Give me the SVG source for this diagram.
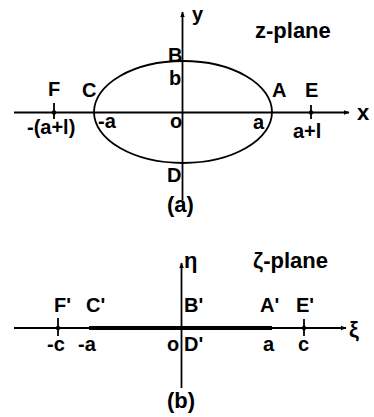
<svg xmlns="http://www.w3.org/2000/svg" width="374" height="417" viewBox="0 0 374 417">
<defs>
<marker id="arr" viewBox="0 0 10 10" refX="9" refY="5" markerWidth="6" markerHeight="6" markerUnits="userSpaceOnUse" orient="auto">
<path d="M0,1 L10,5 L0,9 Z" fill="#000"/>
</marker>
<style>
.ax{stroke:#000;stroke-width:1.8;fill:none}
.tk{stroke:#000;stroke-width:1.8}
.dot{fill:#000}
.t{font-family:"Liberation Sans",Arial,"DejaVu Sans",sans-serif;font-weight:bold;font-size:20px;fill:#000}
.l{font-size:22px}
</style>
</defs>
<rect width="374" height="417" fill="#fff"/>
<g id="connectors">
<line class="ax" x1="14" y1="112.5" x2="349" y2="112.5" marker-end="url(#arr)"/>
<line class="ax" x1="182.5" y1="200" x2="182.5" y2="12" marker-end="url(#arr)"/>
<ellipse class="ax" cx="183" cy="112" rx="89" ry="51" stroke-width="2"/>
<line class="ax" x1="14" y1="328" x2="346" y2="328" marker-end="url(#arr)"/>
<line class="ax" x1="181.5" y1="388" x2="181.5" y2="263" marker-end="url(#arr)"/>
<line x1="89" y1="328" x2="272" y2="328" stroke="#000" stroke-width="4"/>
</g>
<g id="z-plane">
<text class="t" x="192" y="21">y</text>
<text class="t l" x="255" y="38">z-plane</text>
<text class="t l" x="357" y="120">x</text>
<text class="t" x="170" y="128">o</text>
<text class="t l" x="167" y="212">(a)</text>
</g>
<g id="node-B"><text class="t" x="168" y="62">B</text><text class="t" x="169" y="85">b</text></g>
<g id="node-F"><line class="tk" x1="54" y1="103" x2="54" y2="119"/><circle class="dot" cx="54" cy="112.5" r="2.2"/><text class="t" x="48" y="96">F</text><text class="t" x="27" y="134">-(a+l)</text></g>
<g id="node-C"><text class="t" x="82" y="97">C</text><text class="t" x="98" y="128">-a</text></g>
<g id="node-A"><text class="t" x="272" y="97">A</text><text class="t" x="253" y="129">a</text></g>
<g id="node-E"><line class="tk" x1="311" y1="105" x2="311" y2="119"/><circle class="dot" cx="311" cy="112.5" r="2.2"/><text class="t" x="305" y="97">E</text><text class="t" x="293" y="138">a+l</text></g>
<g id="node-D"><text class="t" x="167" y="182">D</text></g>
<g id="zeta-plane">
<text class="t l" x="184" y="268">η</text>
<text class="t l" x="253" y="268">ζ-plane</text>
<text class="t l" x="349" y="337">ξ</text>
<text class="t" x="167" y="351">o</text>
<text class="t l" x="167" y="408">(b)</text>
</g>
<g id="node-Fp"><line class="tk" x1="58" y1="318" x2="58" y2="336"/><circle class="dot" cx="58" cy="328" r="2.2"/><text class="t" x="54" y="312">F'</text><text class="t" x="47" y="351">-c</text></g>
<g id="node-Cp"><text class="t" x="86" y="312">C'</text><text class="t" x="78" y="351">-a</text></g>
<g id="node-Bp"><text class="t" x="184" y="312">B'</text></g>
<g id="node-Dp"><text class="t" x="184" y="351">D'</text></g>
<g id="node-Ap"><text class="t" x="260" y="312">A'</text><text class="t" x="263" y="351">a</text></g>
<g id="node-Ep"><line class="tk" x1="304" y1="319" x2="304" y2="336"/><circle class="dot" cx="304" cy="328" r="2.2"/><text class="t" x="296" y="312">E'</text><text class="t" x="298" y="351">c</text></g>
</svg>
